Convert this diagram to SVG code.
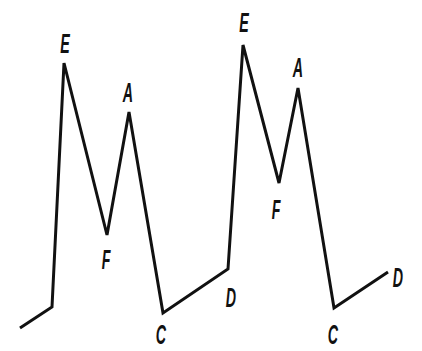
<svg xmlns="http://www.w3.org/2000/svg" width="422" height="351" viewBox="0 0 422 351">
<style>
.l{font-family:"Liberation Sans",Arial,sans-serif;font-style:italic;font-weight:bold;font-size:19px;fill:#111;text-anchor:middle}
.c{fill:none;stroke:#111;stroke-width:3;stroke-linejoin:miter;stroke-linecap:butt}
</style>
<rect width="422" height="351" fill="#fff"/>
<g id="connectors">
<polyline class="c" points="20,328 52,307 64,63 107,235 129,112 163,313 228,269 243,45 279,183 298,88 334,308 388,272"/>
</g>
<g id="E1"><text class="l" transform="translate(65,53) scale(0.75,1.5)">E</text></g>
<g id="A1"><text class="l" transform="translate(128,102) scale(0.75,1.5)">A</text></g>
<g id="F1"><text class="l" transform="translate(106,269) scale(0.75,1.5)">F</text></g>
<g id="C1"><text class="l" transform="translate(161,344) scale(0.75,1.45)">C</text></g>
<g id="D1"><text class="l" transform="translate(231,307) scale(0.75,1.5)">D</text></g>
<g id="E2"><text class="l" transform="translate(244,32) scale(0.75,1.5)">E</text></g>
<g id="A2"><text class="l" transform="translate(298,77) scale(0.75,1.5)">A</text></g>
<g id="F2"><text class="l" transform="translate(276,219) scale(0.75,1.5)">F</text></g>
<g id="C2"><text class="l" transform="translate(333,344) scale(0.75,1.45)">C</text></g>
<g id="D2"><text class="l" transform="translate(398,287) scale(0.75,1.5)">D</text></g>
</svg>
